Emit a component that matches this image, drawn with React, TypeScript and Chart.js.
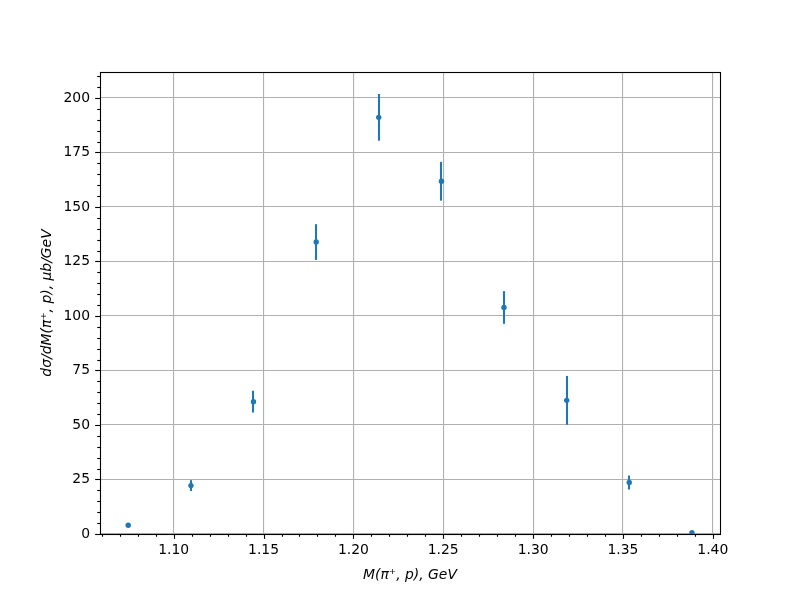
import React, { useEffect, useRef } from "react";
import { Chart, registerables } from "chart.js";

Chart.register(...registerables);

// Invariant mass bins, GeV
const massGeV = [1.0747, 1.1096, 1.1444, 1.1793, 1.2141, 1.249, 1.2838, 1.3187, 1.3535, 1.3884];
// dσ/dM, μb/GeV
const dSigma = [4.0, 22.2, 60.7, 133.9, 191.1, 161.8, 103.9, 61.3, 23.6, 0.6];
const dSigmaErr = [0.6, 2.5, 5.0, 8.2, 10.7, 8.9, 7.5, 11.2, 3.2, 0.5];

const xTickValues = [1.1, 1.15, 1.2, 1.25, 1.3, 1.35, 1.4];
const yTickValues = [0, 25, 50, 75, 100, 125, 150, 175, 200];
const xMinorStep = 0.01;
const yMinorStep = 5;

const X_MIN = 1.059;
const X_MAX = 1.404;
const Y_MIN = 0;
const Y_MAX = 211.9;

const BLUE = "#1f77b4";
const FONT = "DejaVu Sans";

const mplPlugin = {
  id: "mplLook",
  beforeDatasetsDraw(chart: any) {
    const { ctx, chartArea, scales } = chart;
    const x = scales.x;
    const y = scales.y;
    ctx.save();
    ctx.beginPath();
    ctx.rect(chartArea.left, chartArea.top, chartArea.right - chartArea.left, chartArea.bottom - chartArea.top);
    ctx.clip();
    ctx.strokeStyle = BLUE;
    ctx.lineWidth = 2.08;
    ctx.lineCap = "butt";
    massGeV.forEach((m, i) => {
      const px = Math.round(x.getPixelForValue(m));
      ctx.beginPath();
      ctx.moveTo(px, y.getPixelForValue(dSigma[i] - dSigmaErr[i]));
      ctx.lineTo(px, y.getPixelForValue(dSigma[i] + dSigmaErr[i]));
      ctx.stroke();
    });
    ctx.restore();
  },
  afterDraw(chart: any) {
    const { ctx, chartArea, scales } = chart;
    const x = scales.x;
    const y = scales.y;
    const { left, right, top, bottom } = chartArea;
    ctx.save();
    ctx.strokeStyle = "#000";
    ctx.lineWidth = 1.1;
    // frame
    ctx.strokeRect(Math.round(left) + 0.5, Math.round(top) + 0.5, Math.round(right - left), Math.round(bottom - top));
    const major = 4.86;
    const minor = 2.78;
    // x ticks
    const xStart = Math.ceil(X_MIN / xMinorStep - 1e-9);
    const xEnd = Math.floor(X_MAX / xMinorStep + 1e-9);
    for (let k = xStart; k <= xEnd; k++) {
      const v = k * xMinorStep;
      const isMajor = xTickValues.some((t) => Math.abs(t - v) < 1e-6);
      const px = Math.round(x.getPixelForValue(v)) + 0.5;
      ctx.beginPath();
      ctx.moveTo(px, bottom);
      ctx.lineTo(px, bottom + (isMajor ? major : minor));
      ctx.stroke();
    }
    // y ticks
    const yStart = Math.ceil(Y_MIN / yMinorStep);
    const yEnd = Math.floor(Y_MAX / yMinorStep);
    for (let k = yStart; k <= yEnd; k++) {
      const v = k * yMinorStep;
      const isMajor = yTickValues.some((t) => Math.abs(t - v) < 1e-6);
      const py = Math.round(y.getPixelForValue(v)) + 0.5;
      ctx.beginPath();
      ctx.moveTo(left, py);
      ctx.lineTo(left - (isMajor ? major : minor), py);
      ctx.stroke();
    }
    ctx.restore();
  },
};

export default function App() {
  const canvasRef = useRef<HTMLCanvasElement | null>(null);

  useEffect(() => {
    const canvas = canvasRef.current;
    if (!canvas) return;
    const points = massGeV.map((m, i) => ({ x: m, y: dSigma[i] }));
    const chart = new Chart(canvas, {
      type: "scatter",
      data: {
        datasets: [
          {
            data: points,
            pointRadius: 2.7,
            pointHoverRadius: 2.7,
            pointBackgroundColor: BLUE,
            pointBorderWidth: 0,
            borderColor: BLUE,
            showLine: false,
          },
        ],
      },
      options: {
        responsive: false,
        animation: false,
        devicePixelRatio: 1,
        layout: { padding: { left: 0, top: 72, right: 80, bottom: 0 } },
        plugins: {
          legend: { display: false },
          tooltip: { enabled: false },
        },
        scales: {
          x: {
            type: "linear",
            min: X_MIN,
            max: X_MAX,
            afterBuildTicks: (scale: any) => {
              scale.ticks = xTickValues.map((v) => ({ value: v }));
            },
            afterFit: (scale: any) => {
              scale.height = 66;
            },
            ticks: {
              color: "#000",
              font: { family: FONT, size: 13.9 },
              padding: 8,
              maxRotation: 0,
              autoSkip: false,
              callback: (v: any) => Number(v).toFixed(2),
            },
            grid: { color: "#b0b0b0", lineWidth: 1.1, drawTicks: false },
            border: { display: false },
            title: {
              display: true,
              text: "M(π⁺, p), GeV",
              color: "#000",
              font: { family: FONT, size: 13.9, style: "italic" },
              padding: { top: 0, bottom: 16 },
            },
          },
          y: {
            type: "linear",
            min: Y_MIN,
            max: Y_MAX,
            afterBuildTicks: (scale: any) => {
              scale.ticks = yTickValues.map((v) => ({ value: v }));
            },
            afterFit: (scale: any) => {
              scale.width = 100;
            },
            ticks: {
              color: "#000",
              font: { family: FONT, size: 13.9 },
              padding: 10,
              autoSkip: false,
              callback: (v: any) => String(Math.round(Number(v))),
            },
            grid: { color: "#b0b0b0", lineWidth: 1.1, drawTicks: false },
            border: { display: false },
            title: {
              display: true,
              text: "dσ/dM(π⁺, p), μb/GeV",
              color: "#000",
              font: { family: FONT, size: 13.9, style: "italic" },
              padding: { top: 39, bottom: 0 },
            },
          },
        },
      },
      plugins: [mplPlugin],
    } as any);
    return () => chart.destroy();
  }, []);

  return (
    <div style={{ position: "absolute", left: 0, top: 0, width: 800, height: 600, background: "#fff" }}>
      <canvas ref={canvasRef} width={800} height={600} />
    </div>
  );
}
